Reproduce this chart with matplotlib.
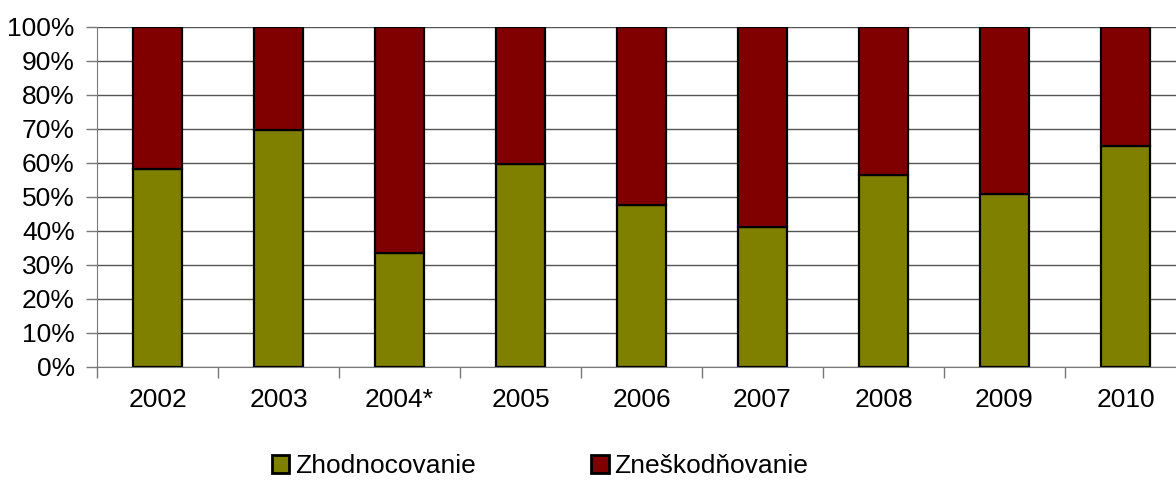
import matplotlib.pyplot as plt
from matplotlib.patches import Patch
from matplotlib.ticker import FuncFormatter, FixedLocator
import numpy as np

plt.rcParams['font.family'] = ['Liberation Sans', 'DejaVu Sans']

years = ['2002', '2003', '2004*', '2005', '2006', '2007', '2008', '2009', '2010']
zhodnocovanie = [58.1, 69.6, 33.4, 59.7, 47.7, 41.3, 56.5, 50.9, 65.1]
zneskodnovanie = [100 - v for v in zhodnocovanie]

green = '#808000'
red = '#800000'

fig = plt.figure(figsize=(11.76, 4.82), dpi=100)
# axes extend a little beyond the right edge, like the cropped original
ax = fig.add_axes([97 / 1176, 115 / 482, 1089 / 1176, 340 / 482])

x = np.arange(len(years))
ax.bar(x, zhodnocovanie, width=0.4, color=green, edgecolor='black', linewidth=1.6, zorder=3)
ax.bar(x, zneskodnovanie, width=0.4, bottom=zhodnocovanie, color=red,
       edgecolor='black', linewidth=1.6, zorder=3)

ax.set_xlim(-0.5, len(years) - 0.5)
ax.set_ylim(0, 100)
ax.set_yticks(np.arange(0, 101, 10))
ax.yaxis.set_major_formatter(FuncFormatter(lambda v, p: '%d%%' % v))
ax.grid(axis='y', color='#555555', linewidth=1.0, zorder=0)

# ticks between categories, labels at category centres
ax.xaxis.set_major_locator(FixedLocator(np.arange(-0.5, len(years), 1)))
ax.xaxis.set_major_formatter(FuncFormatter(lambda v, p: ''))
ax.xaxis.set_minor_locator(FixedLocator(x))
ax.set_xticklabels(years, minor=True)
ax.tick_params(axis='x', which='major', length=8, color='#777777', width=1)
ax.tick_params(axis='x', which='minor', length=0, pad=15, labelsize=19)
ax.tick_params(axis='y', length=8, color='#777777', width=1, labelsize=19, pad=8)

for s in ['top', 'right']:
    ax.spines[s].set_visible(False)
ax.spines['left'].set_color('#777777')
ax.spines['bottom'].set_color('#777777')

handles = [Patch(facecolor=green, edgecolor='black', linewidth=2, label='Zhodnocovanie'),
           Patch(facecolor=red, edgecolor='black', linewidth=2, label='Zneškodňovanie')]
fig.legend(handles=handles, loc='center', bbox_to_anchor=(540 / 1176, 1 - 466 / 482),
           ncol=2, frameon=False, fontsize=19, handlelength=0.65, handleheight=0.65,
           handletextpad=0.2, columnspacing=4.4, borderpad=0)

fig.savefig('out.png', dpi=100)
